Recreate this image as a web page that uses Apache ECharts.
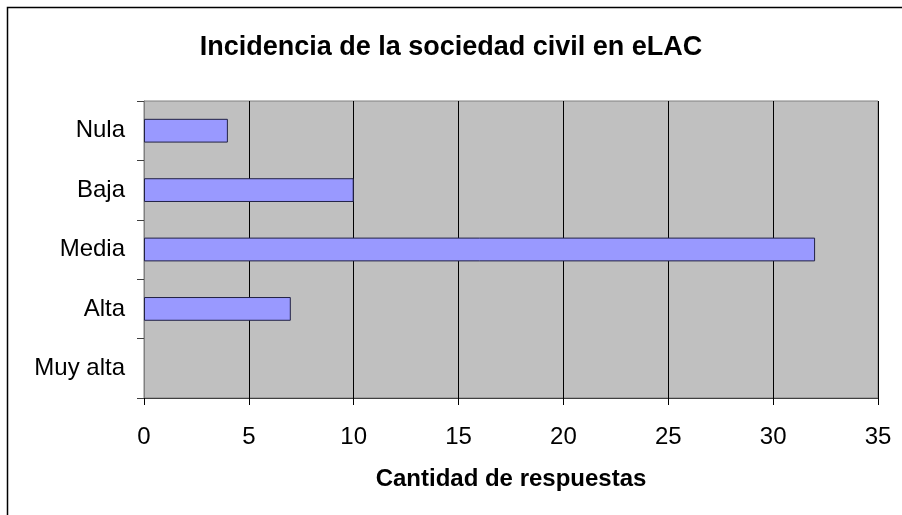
<!DOCTYPE html>
<html>
<head>
<meta charset="utf-8">
<script src="https://cdn.jsdelivr.net/npm/echarts@6/dist/echarts.min.js"></script>
<style>
  html, body { margin: 0; padding: 0; background: #fff; }
  #chart { width: 902px; height: 515px; }
</style>
</head>
<body>
<div id="chart"></div>
<script>
// categories from top to bottom
const categories = ['Nula', 'Baja', 'Media', 'Alta', 'Muy alta']
const values = [4, 10, 32, 7, 0]
const xTicks = [0, 5, 10, 15, 20, 25, 30, 35]

const font = '"Liberation Sans", Arial, sans-serif'

// zero-length bars get no outline, like the original
const barData = values.map(v => v === 0 ? { value: v, itemStyle: { borderWidth: 0 } } : v)

let chart = echarts.init(document.getElementById('chart'))
chart.setOption({
  animation: false,
  backgroundColor: '#fff',
  title: {
    text: 'Incidencia de la sociedad civil en eLAC',
    left: 'center',
    top: 29,
    textStyle: { fontFamily: font, fontSize: 27, fontWeight: 'bold', color: '#000' }
  },
  // outer chart frame (runs off the right and bottom edges)
  graphic: [{
    type: 'rect',
    shape: { x: 7.5, y: 7.5, width: 1000, height: 1000 },
    style: { fill: 'none', stroke: '#000', lineWidth: 1.5 },
    silent: true
  }],
  grid: {
    left: 144, right: 24, top: 101, bottom: 117,
    show: true,
    backgroundColor: '#C0C0C0',
    borderColor: '#808080',
    borderWidth: 1
  },
  xAxis: {
    type: 'value',
    min: 0, max: 35, interval: 5,
    name: 'Cantidad de respuestas',
    nameLocation: 'middle',
    nameGap: 69,
    nameTextStyle: { fontFamily: font, fontSize: 24, fontWeight: 'bold', color: '#000' },
    axisLine: { show: true, lineStyle: { color: '#404040', width: 1 } },
    axisTick: { show: true, length: 7, lineStyle: { color: '#000' } },
    axisLabel: {
      margin: 27, fontFamily: font, fontSize: 24, color: '#000',
      formatter: v => xTicks.includes(v) ? String(v) : ''
    },
    splitLine: { show: true, lineStyle: { color: '#000', width: 1 } }
  },
  yAxis: {
    type: 'category',
    inverse: true,
    data: categories,
    axisLine: { show: true, lineStyle: { color: '#808080', width: 1 } },
    axisTick: { show: true, length: 7, lineStyle: { color: '#404040' } },
    axisLabel: { margin: 19, fontFamily: font, fontSize: 24, color: '#000' },
    splitLine: { show: false }
  },
  series: [{
    type: 'bar',
    data: barData,
    barWidth: '40%',
    itemStyle: { color: '#9999FF', borderColor: '#222244', borderWidth: 1 }
  }]
})
</script>
</body>
</html>
